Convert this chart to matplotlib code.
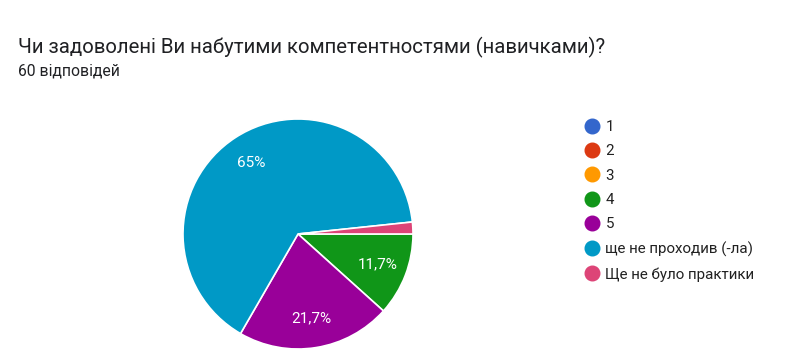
import matplotlib.pyplot as plt
from matplotlib.lines import Line2D

plt.rcParams['font.family'] = ['Roboto', 'DejaVu Sans']

# answers and counts (60 responses)
labels = ['1', '2', '3', '4', '5', 'ще не проходив (-ла)', 'Ще не було практики']
counts = [0, 0, 0, 7, 13, 39, 1]
colors = ['#3366cc', '#dc3912', '#ff9900', '#109618', '#990099', '#0099c6', '#dd4477']
title = 'Чи задоволені Ви набутими компетентностями (навичками)?'
subtitle = '60 відповідей'

W, H = 810, 361
fig = plt.figure(figsize=(W / 100, H / 100), dpi=100)

fig.text(18 / W, 1 - 53 / H, title, fontsize=14.7, color='#202124', va='baseline')
fig.text(18 / W, 1 - 76 / H, subtitle, fontsize=11.3, color='#202124', va='baseline')

# only non-empty slices go into the pie
pie_vals = [c for c in counts if c > 0]
pie_cols = [col for c, col in zip(counts, colors) if c > 0]


def fmt(p):
    if p < 5:
        return ''
    s = f'{p:.1f}'.replace('.', ',')
    s = s[:-2] if s.endswith(',0') else s
    return s + '%'


ax = fig.add_axes([183 / W, 12 / H, 230 / W, 230 / H])
wedges, texts, autotexts = ax.pie(
    pie_vals, colors=pie_cols, startangle=0, counterclock=False,
    autopct=fmt, pctdistance=0.74,
    wedgeprops=dict(edgecolor='white', linewidth=1.2),
    textprops=dict(color='white', fontsize=11),
)
ax.set_xlim(-1, 1)
ax.set_ylim(-1, 1)
ax.set_aspect('equal')
ax.axis('off')

handles = [Line2D([], [], marker='o', linestyle='', markersize=10.5,
                  markerfacecolor=c, markeredgecolor=c) for c in colors]
fig.legend(handles, labels, loc='upper left', bbox_to_anchor=(584 / W, 1 - 120 / H),
           frameon=False, fontsize=10.9, labelspacing=0.68, handlelength=1.0,
           handletextpad=0.42, borderaxespad=0, borderpad=0, labelcolor='#222222')

fig.savefig('out.png', dpi=100, facecolor='white')
